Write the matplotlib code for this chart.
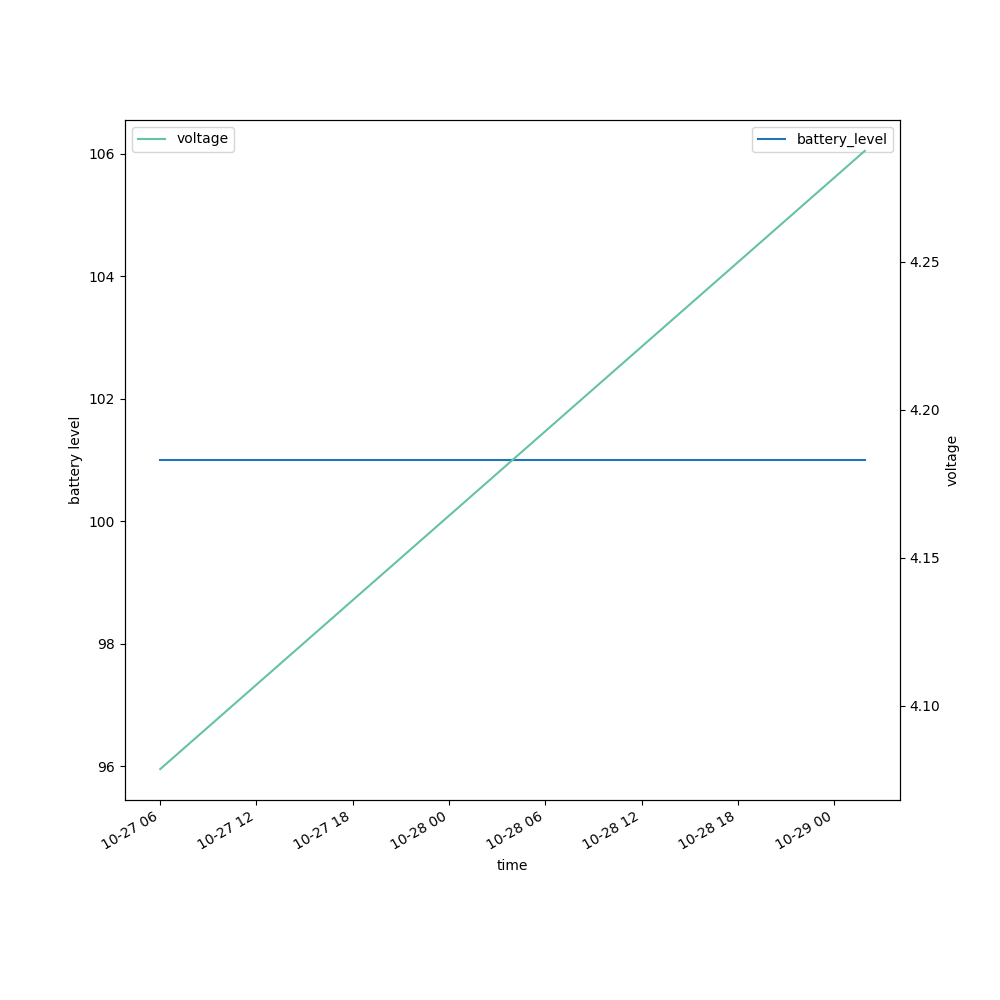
import matplotlib
matplotlib.use('Agg')
import matplotlib.pyplot as plt
import matplotlib.dates as mdates
import pandas as pd

time = pd.to_datetime(['2023-10-27 06:00', '2023-10-29 01:55'])
battery_level = [101, 101]
voltage = [4.0787, 4.2874]

fig, ax = plt.subplots(figsize=(10, 10), dpi=100)
ax.plot(time, battery_level, color='#1f77b4', label='battery_level')
ax.set_ylabel('battery level')
ax.set_xlabel('time')
ax.legend(loc='upper right')

ax2 = ax.twinx()
ax2.plot(time, voltage, color='#66c2a5', label='voltage')
ax2.set_ylabel('voltage')
ax2.legend(loc='upper left')

ax.xaxis.set_major_locator(mdates.HourLocator(byhour=[0, 6, 12, 18]))
ax.xaxis.set_major_formatter(mdates.DateFormatter('%m-%d %H'))
fig.autofmt_xdate()

plt.savefig('out.png')
